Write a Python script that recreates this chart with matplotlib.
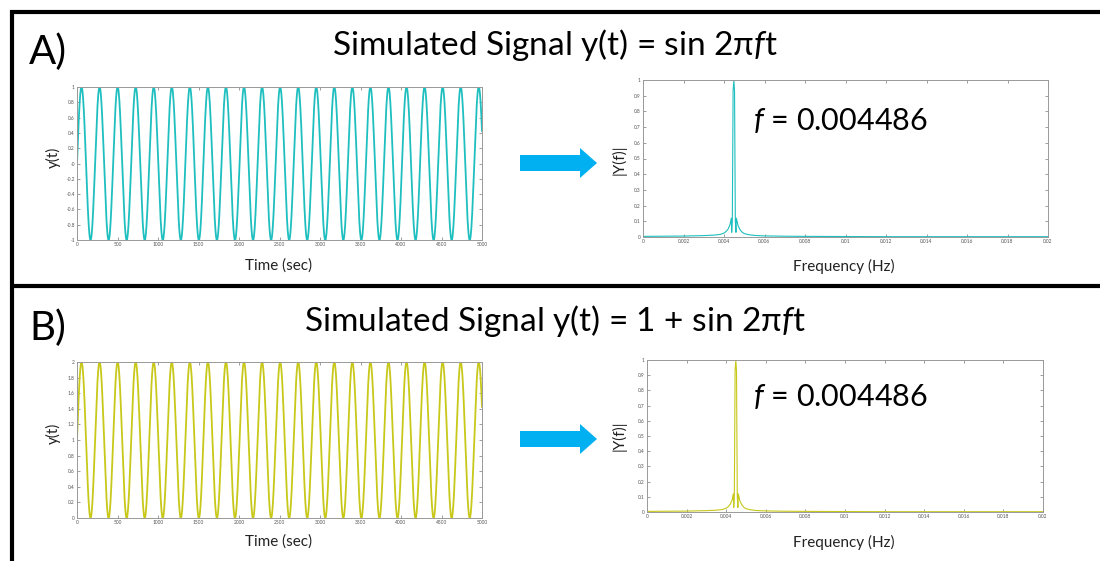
import matplotlib.pyplot as plt
import numpy as np

plt.rcParams['font.family'] = ['Lato', 'DejaVu Sans']
plt.rcParams['mathtext.fontset'] = 'custom'
plt.rcParams['mathtext.rm'] = 'Lato'
plt.rcParams['mathtext.it'] = 'Lato:italic'

f_peak = 0.004486
duration = 5000
offsets = [0, 1]
panel_letters = ['A)', 'B)']
titles = [r'Simulated Signal y(t) = sin 2π$\mathit{f}$t',
          r'Simulated Signal y(t) = 1 + sin 2π$\mathit{f}$t']
colors = ['#1FBFBF', '#C8C81A']

# spectrum |Y(f)| (same for A and B)
spec_freq = [0, 0.001, 0.002, 0.003, 0.0035, 0.0038, 0.004, 0.0041, 0.0042, 0.0043,
             0.00436, 0.00438, 0.00441, 0.00445, 0.004486, 0.00452, 0.00456, 0.00459,
             0.00461, 0.0047, 0.0048, 0.0049, 0.005, 0.0052, 0.0055, 0.006, 0.007,
             0.008, 0.01, 0.0125, 0.015, 0.02]
spec_mag = [0.004, 0.005, 0.006, 0.009, 0.012, 0.016, 0.025, 0.035, 0.05, 0.08,
            0.12, 0.03, 0.1, 0.93, 1.0, 0.93, 0.1, 0.03,
            0.12, 0.07, 0.045, 0.03, 0.022, 0.015, 0.01, 0.007, 0.005,
            0.004, 0.003, 0.002, 0.002, 0.002]

W, H = 1100, 561
fig = plt.figure(figsize=(11, 5.61), dpi=100)


def px_axes(l, t, r, b):
    return fig.add_axes([l / W, 1 - b / H, (r - l) / W, (b - t) / H])


def style(ax):
    ax.tick_params(direction='in', top=True, right=True, labelsize=3.5, length=2,
                   width=0.5, colors='#777777', labelcolor='#555555', pad=1.5)
    for s in ax.spines.values():
        s.set_color('#999999')
        s.set_linewidth(0.7)


t = np.arange(0, duration + 1, 1)
time_boxes = [(77, 87, 482, 240), (77, 362, 482, 518)]
freq_boxes = [(643, 80, 1048, 237), (647, 360, 1043, 512)]

for i in range(2):
    y = offsets[i] + np.sin(2 * np.pi * f_peak * t)
    ax = px_axes(*time_boxes[i])
    ax.plot(t, y, color=colors[i], lw=1.3)
    ax.set_xlim(0, duration)
    ax.set_ylim(offsets[i] - 1, offsets[i] + 1)
    yt = np.round(np.arange(offsets[i] - 1, offsets[i] + 1.01, 0.2), 1)
    ax.set_xticks(np.arange(0, 5001, 500))
    ax.set_yticks(yt)
    ax.set_yticklabels(['%g' % v for v in yt])
    style(ax)

    ax2 = px_axes(*freq_boxes[i])
    ax2.plot(spec_freq, spec_mag, color=colors[i], lw=0.8)
    ax2.set_xlim(0, 0.02)
    ax2.set_ylim(0, 1)
    xt = np.round(np.arange(0, 0.0201, 0.002), 3)
    ax2.set_xticks(xt)
    ax2.set_xticklabels(['%g' % v for v in xt])
    yt2 = np.round(np.arange(0, 1.01, 0.1), 1)
    ax2.set_yticks(yt2)
    ax2.set_yticklabels(['%g' % v for v in yt2])
    style(ax2)

# overlay in pixel coordinates for text, arrows and frame lines
ov = fig.add_axes([0, 0, 1, 1], facecolor='none')
ov.set_xlim(0, W)
ov.set_ylim(H, 0)
ov.axis('off')

ov.plot([12, 12], [10, H], color='black', lw=3, solid_capstyle='butt')
ov.plot([10, W], [12, 12], color='black', lw=3, solid_capstyle='butt')
ov.plot([12, W], [286, 286], color='black', lw=3, solid_capstyle='butt')

rows = [0, 276]
for i in range(2):
    dy = rows[i]
    ov.text(29, 52 + dy, panel_letters[i], fontsize=29, ha='left', va='center')
    ov.text(555, 45 + dy, titles[i], fontsize=24, ha='center', va='center')
    ov.text(279, 266 + dy, 'Time (sec)', fontsize=11, ha='center', va='center', color='#222222')
    ov.text(844, 266 + dy, 'Frequency (Hz)', fontsize=11, ha='center', va='center', color='#222222')
    ov.text(53, 157 + dy, 'y(t)', fontsize=11, rotation=90, ha='center', va='center', color='#222222')
    ov.text(619, 160 + dy, '|Y(f)|', fontsize=11, rotation=90, ha='center', va='center', color='#222222')
    ov.text(753, 120 + dy, r'$\mathit{f}$ = 0.004486', fontsize=22, ha='left', va='center')
    ov.fill([520, 580, 580, 597, 580, 580, 520],
            [155 + dy, 155 + dy, 148 + dy, 163 + dy, 178 + dy, 171 + dy, 171 + dy],
            color='#00B0F0', lw=0)

fig.savefig('out.png', dpi=100)
